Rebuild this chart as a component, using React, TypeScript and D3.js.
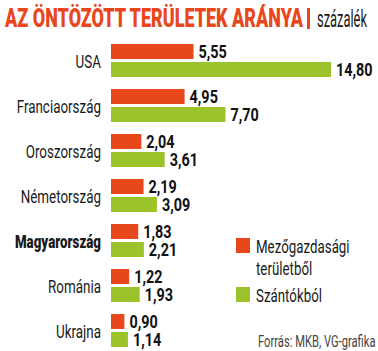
import React from "react";
import * as d3 from "d3";

const categories = ["USA", "Franciaország", "Oroszország", "Németország", "Magyarország", "Románia", "Ukrajna"];
const agriValues = [5.55, 4.95, 2.04, 2.19, 1.83, 1.22, 0.9];
const arableValues = [14.8, 7.7, 3.61, 3.09, 2.21, 1.93, 1.14];
const seriesNames = ["Mezőgazdasági területből", "Szántókból"];

const RED = "#e8471c";
const GREEN = "#9dc32a";
const FONT = "Roboto, 'DejaVu Sans Condensed', sans-serif";

const fmt = (v: number) => d3.format(".2f")(v).replace(".", ",");

// condensed text: squeeze horizontally around the anchor point
function T({ x, y, s = 0.72, children, ...rest }: any) {
  return (
    <text transform={`translate(${x},${y}) scale(${s},1)`} {...rest}>
      {children}
    </text>
  );
}

export default function App() {
  const width = 378;
  const height = 351;

  // x: value -> pixels, bars start at 111
  const x = d3.scaleLinear().domain([0, 14.8]).range([111, 331]);
  // y: one band per country
  const y = d3.scaleBand<string>().domain(categories).range([44, 44 + 45 * categories.length]);
  const sub = d3.scaleBand<string>().domain(["agri", "arable"]).range([0, 33]).paddingInner(1 / 6);

  const rows = categories.map((c, i) => ({ c, agri: agriValues[i], arable: arableValues[i] }));

  return (
    <svg width={width} height={height} style={{ position: "absolute", left: 0, top: 0, background: "#fff" }} fontFamily={FONT}>
      {/* title */}
      <text x={5} y={27} fontSize={25} fontWeight={900} fill={RED} textLength={298} lengthAdjust="spacingAndGlyphs">
        AZ ÖNTÖZÖTT TERÜLETEK ARÁNYA
      </text>
      <rect x={307} y={8} width={3} height={21} fill={RED} />
      <text x={317} y={27} fontSize={24} fill="#1a1a1a" textLength={50} lengthAdjust="spacingAndGlyphs">
        százalék
      </text>

      {rows.map((r) => {
        const y0 = y(r.c)!;
        const bold = r.c === "Magyarország";
        return (
          <g key={r.c}>
            <T
              x={101}
              y={y0 + 23.5}
              s={bold ? 0.74 : 0.745}
              textAnchor="end"
              fontSize={18}
              fontWeight={bold ? 900 : 400}
              fill="#1a1a1a"
            >
              {r.c}
            </T>
            {([["agri", r.agri, RED], ["arable", r.arable, GREEN]] as [string, number, string][]).map(([k, v, col]) => (
              <g key={k}>
                <rect x={x(0)} y={y0 + sub(k)!} width={x(v) - x(0)} height={sub.bandwidth()} fill={col} />
                <T
                  x={x(v) + 5}
                  y={y0 + sub(k)! + 13.5}
                  s={0.8}
                  fontSize={18}
                  fontWeight="bold"
                  fill="#111"
                >
                  {fmt(v)}
                </T>
              </g>
            ))}
          </g>
        );
      })}

      {/* legend */}
      <rect x={236} y={238} width={14} height={15} fill={RED} />
      <T x={256} y={253} s={0.74} fontSize={18} fill="#1a1a1a">
        {seriesNames[0].split(" ")[0]}
      </T>
      <T x={256} y={275} s={0.74} fontSize={18} fill="#1a1a1a">
        {seriesNames[0].split(" ")[1]}
      </T>
      <rect x={236} y={287} width={14} height={15} fill={GREEN} />
      <T x={256} y={302} s={0.74} fontSize={18} fill="#1a1a1a">
        {seriesNames[1]}
      </T>

      <T x={258} y={347} s={0.7} fontSize={16} fill="#444">
        Forrás: MKB, VG-grafika
      </T>
    </svg>
  );
}
